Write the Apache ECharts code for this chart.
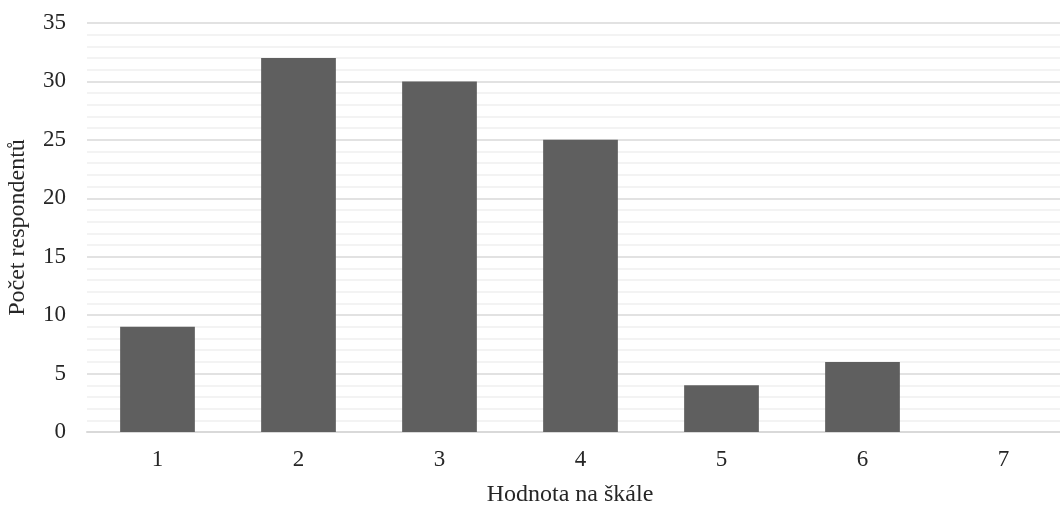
<!DOCTYPE html>
<html>
<head>
<meta charset="utf-8">
<script src="https://cdn.jsdelivr.net/npm/echarts@6/dist/echarts.min.js"></script>
<style>
  html, body { margin: 0; padding: 0; background: #fff; }
  #chart { width: 1060px; height: 508px; }
</style>
</head>
<body>
<div id="chart"></div>
<script>
// Rozložení odpovědí na škále 1–7
const categories = ['1', '2', '3', '4', '5', '6', '7'];
const counts = [9, 32, 30, 25, 4, 6, 0];
const xTitle = 'Hodnota na škále';
const yTitle = 'Počet respondentů';

const font = '"Liberation Serif", "Times New Roman", serif';
const chart = echarts.init(document.getElementById('chart'));
chart.setOption({
  animation: false,
  // the plot area runs slightly past the right edge of the canvas
  grid: { left: 87, width: 987, top: 23, bottom: 76, outerBoundsMode: 'none' },
  xAxis: {
    type: 'category',
    data: categories,
    name: xTitle,
    nameLocation: 'middle',
    nameGap: 51,
    nameMoveOverlap: false,
    nameTextStyle: { fontFamily: font, fontSize: 24, color: '#262626', padding: [0, 21, 0, 0] },
    axisLine: { lineStyle: { color: '#d9d9d9', width: 2 } },
    axisTick: { show: false },
    axisLabel: { fontFamily: font, fontSize: 23, color: '#262626', margin: 16 }
  },
  yAxis: {
    type: 'value',
    min: 0,
    max: 35,
    interval: 5,
    name: yTitle,
    nameLocation: 'middle',
    nameGap: 57,
    nameMoveOverlap: false,
    nameTextStyle: { fontFamily: font, fontSize: 24, color: '#262626' },
    axisLine: { show: false },
    axisTick: { show: false },
    axisLabel: { fontFamily: font, fontSize: 23, color: '#262626', margin: 21 },
    splitLine: { lineStyle: { color: '#d9d9d9', width: 1.5 } },
    minorTick: { show: false, splitNumber: 5 },
    minorSplitLine: { show: true, lineStyle: { color: '#f0f0f0', width: 1.5 } }
  },
  series: [{
    type: 'bar',
    data: counts,
    barWidth: '53%',
    itemStyle: { color: '#5f5f5f' }
  }]
});
</script>
</body>
</html>
